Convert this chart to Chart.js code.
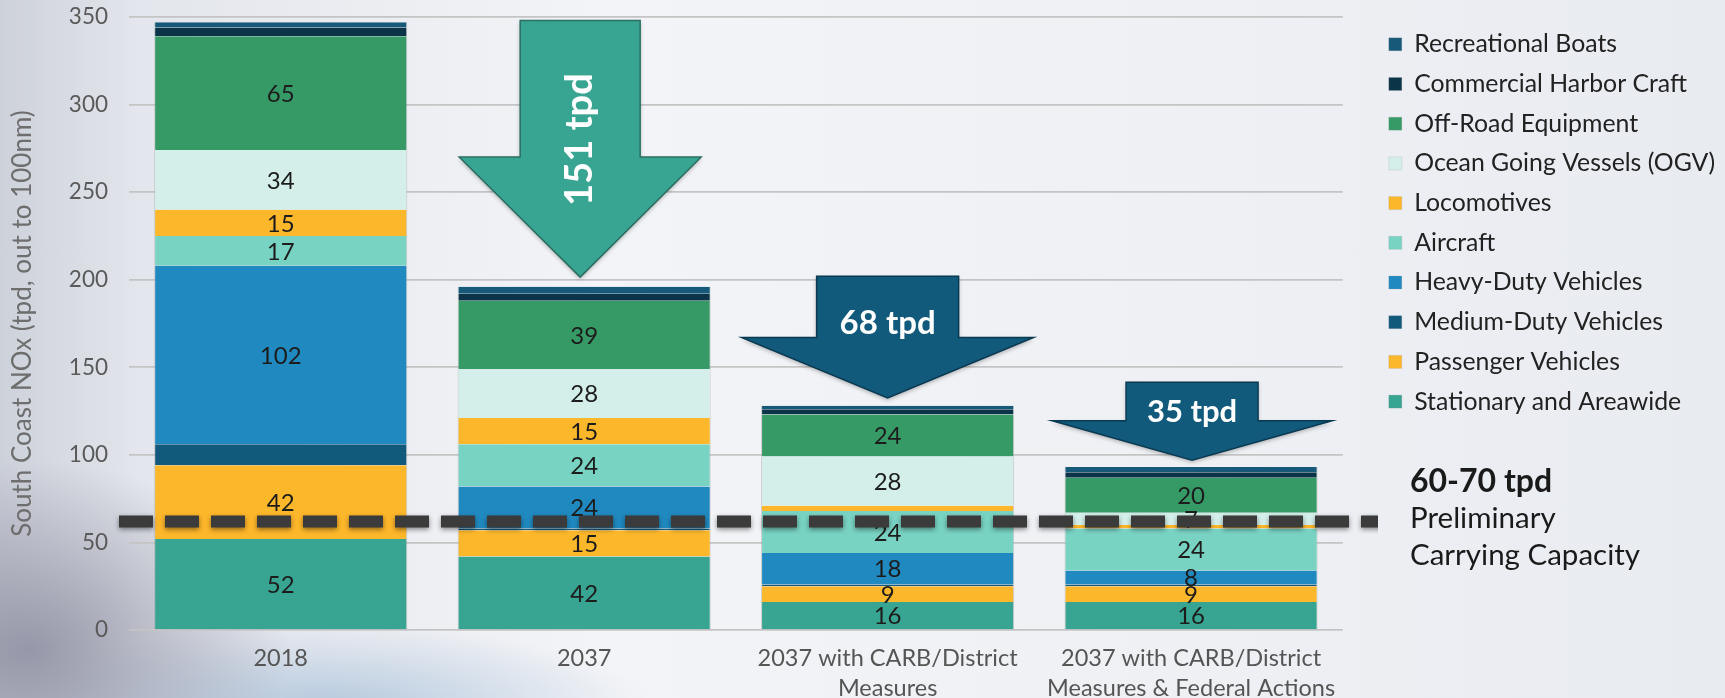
<!DOCTYPE html>
<html>
<head>
<meta charset="utf-8">
<script src="https://cdn.jsdelivr.net/npm/chart.js@4.4.0/dist/chart.umd.min.js"></script>
<style>
  html, body { margin: 0; padding: 0; }
  body {
    width: 1725px; height: 698px; overflow: hidden;
    background:
      radial-gradient(ellipse 260px 190px at 30px 650px, rgba(130,130,150,0.75), rgba(130,130,150,0) 100%),
      radial-gradient(ellipse 320px 80px at 330px 705px, rgba(120,160,200,0.45), rgba(120,160,200,0) 100%),
      linear-gradient(90deg, #cdd1da 0px, #e3e6ec 140px, #f3f4f7 600px, #eef0f4 1200px, #e8ebf0 1725px);
  }
  #wrap { position: relative; width: 1725px; height: 698px; }
</style>
</head>
<body>
<div id="wrap"><canvas id="noxChart"></canvas></div>
<script>
// categories and series (tpd)
const categories = [
    ['2018'],
    ['2037'],
    ['2037 with CARB/District', 'Measures'],
    ['2037 with CARB/District', 'Measures & Federal Actions']
];
const stationary  = [52, 42, 16, 16];
const passenger   = [42, 15, 9, 9];
const mediumDuty  = [12, 1, 1, 1];
const heavyDuty   = [102, 24, 18, 8];
const aircraft    = [17, 24, 24, 24];
const locomotives = [15, 15, 3, 2];
const oceanGoing  = [34, 28, 28, 7];
const offRoad     = [65, 39, 24, 20];
const harborCraft = [5, 4, 3, 3];
const recBoats    = [3, 4, 2, 3];
const yTicks = [0, 50, 100, 150, 200, 250, 300, 350];
const reductionLabels = ['151 tpd', '68 tpd', '35 tpd'];
const capacityLevel = 62;
const capacityText = ['60-70 tpd', 'Preliminary', 'Carrying Capacity'];

const FONT = 'Lato';

const series = [
    { label: 'Stationary and Areawide', data: stationary, color: '#38a492', showValue: true },
    { label: 'Passenger Vehicles', data: passenger, color: '#fdb72a', showValue: true },
    { label: 'Medium-Duty Vehicles', data: mediumDuty, color: '#115a7c', showValue: false },
    { label: 'Heavy-Duty Vehicles', data: heavyDuty, color: '#2089bf', showValue: true },
    { label: 'Aircraft', data: aircraft, color: '#79d3c3', showValue: true },
    { label: 'Locomotives', data: locomotives, color: '#fdb72a', showValue: true },
    { label: 'Ocean Going Vessels (OGV)', data: oceanGoing, color: '#d4efea', showValue: true },
    { label: 'Off-Road Equipment', data: offRoad, color: '#369a66', showValue: true },
    { label: 'Commercial Harbor Craft', data: harborCraft, color: '#0b3448', showValue: false },
    { label: 'Recreational Boats', data: recBoats, color: '#175979', showValue: false }
];

// reduction arrows: category they sit over, shape in axis units / px
const arrows = [
    { cat: 1, dx: -4, top: 348, neck: 270, tip: 201.5, shaft: 60, head: 121, textY: 280, fill: '#38a492', edge: '#2a6f62', size: 38, vertical: true },
    { cat: 2, dx: 0, top: 202, neck: 167, tip: 132.5, shaft: 71, head: 146, textY: 175, fill: '#115a7c', edge: '#0a3a52', size: 33, vertical: false },
    { cat: 3, dx: 1, top: 141.5, neck: 119.5, tip: 97, shaft: 66, head: 140, textY: 124.5, fill: '#115a7c', edge: '#0a3a52', size: 31, vertical: false }
];

// plot right edge and legend placement
const plotRight = 1343;
const legendFontSize = 24.8;
const legendPad = 14.9;
const legendBox = 13;
const measureCtx = document.createElement('canvas').getContext('2d');
measureCtx.font = legendFontSize + 'px ' + FONT;
const maxLabelW = Math.max(...series.map(s => measureCtx.measureText(s.label).width));
const legendW = legendPad + legendBox + legendFontSize / 2 + maxLabelW + 10;
const legendLeft = 1389 - legendPad;
const rightPad = Math.max(0, 1725 - legendLeft - legendW);

const segmentLabels = {
    id: 'segmentLabels',
    afterDatasetsDraw(chart) {
        const ctx = chart.ctx;
        ctx.save();
        ctx.font = '24px ' + FONT;
        ctx.fillStyle = '#1c1c1c';
        ctx.textAlign = 'center';
        ctx.textBaseline = 'middle';
        chart.data.datasets.forEach((ds, di) => {
            if (!series[di].showValue) return;
            chart.getDatasetMeta(di).data.forEach((bar, i) => {
                const v = ds.data[i];
                if (v < 5) return;
                const p = bar.getProps(['x', 'y', 'base'], true);
                ctx.fillText(String(v), p.x, (p.y + p.base) / 2 + 1);
            });
        });
        ctx.restore();
    }
};

const overlays = {
    id: 'overlays',
    afterDraw(chart) {
        const ctx = chart.ctx;
        const xs = chart.scales.x, ys = chart.scales.y;
        const area = chart.chartArea;

        // dashed carrying capacity line
        const yc = ys.getPixelForValue(capacityLevel);
        ctx.save();
        ctx.beginPath();
        ctx.rect(0, 0, 1378, chart.height);
        ctx.clip();
        ctx.shadowColor = 'rgba(0,0,0,0.45)';
        ctx.shadowBlur = 5;
        ctx.shadowOffsetY = 2;
        ctx.strokeStyle = '#3b3b3b';
        ctx.lineWidth = 12;
        ctx.setLineDash([34, 12]);
        ctx.beginPath();
        ctx.moveTo(area.left - 10, yc);
        ctx.lineTo(1400, yc);
        ctx.stroke();
        ctx.restore();

        // reduction arrows
        arrows.forEach((a, k) => {
            const cx = xs.getPixelForValue(a.cat) + a.dx;
            const yT = ys.getPixelForValue(a.top);
            const yN = ys.getPixelForValue(a.neck);
            const yP = ys.getPixelForValue(a.tip);
            ctx.save();
            ctx.shadowColor = 'rgba(0,0,0,0.3)';
            ctx.shadowBlur = 4;
            ctx.shadowOffsetY = 2;
            ctx.beginPath();
            ctx.moveTo(cx - a.shaft, yT);
            ctx.lineTo(cx + a.shaft, yT);
            ctx.lineTo(cx + a.shaft, yN);
            ctx.lineTo(cx + a.head, yN);
            ctx.lineTo(cx, yP);
            ctx.lineTo(cx - a.head, yN);
            ctx.lineTo(cx - a.shaft, yN);
            ctx.closePath();
            ctx.fillStyle = a.fill;
            ctx.fill();
            ctx.shadowColor = 'transparent';
            ctx.strokeStyle = a.edge;
            ctx.lineWidth = 1.5;
            ctx.stroke();
            ctx.fillStyle = '#ffffff';
            ctx.font = 'bold ' + a.size + 'px ' + FONT;
            ctx.textAlign = 'center';
            ctx.textBaseline = 'middle';
            const ty = ys.getPixelForValue(a.textY);
            if (a.vertical) {
                ctx.translate(cx, ty);
                ctx.rotate(-Math.PI / 2);
                ctx.fillText(reductionLabels[k], 0, 0);
            } else {
                ctx.fillText(reductionLabels[k], cx, ty);
            }
            ctx.restore();
        });

        // capacity note
        ctx.save();
        ctx.fillStyle = '#1a1a1a';
        ctx.textAlign = 'left';
        ctx.textBaseline = 'middle';
        ctx.font = 'bold 32px ' + FONT;
        ctx.fillText(capacityText[0], 1410, 482);
        ctx.font = '29.5px ' + FONT;
        ctx.fillText(capacityText[1], 1410, 518);
        ctx.fillText(capacityText[2], 1410, 555);
        ctx.restore();
    }
};

const ctx = document.getElementById('noxChart').getContext('2d');
new Chart(ctx, {
    type: 'bar',
    data: {
        labels: categories,
        datasets: series.map(s => ({
            label: s.label,
            data: s.data,
            backgroundColor: s.color,
            borderColor: 'rgba(150,150,150,0.45)',
            borderWidth: { left: 1, right: 1, top: 0, bottom: 0 },
            borderSkipped: false,
            barPercentage: 0.834,
            categoryPercentage: 1.0
        }))
    },
    options: {
        responsive: true,
        maintainAspectRatio: false,
        animation: false,
        layout: { padding: { top: 0, right: rightPad, bottom: 0, left: 0 } },
        plugins: {
            legend: {
                position: 'right',
                align: 'start',
                fullSize: false,
                reverse: true,
                maxWidth: 600,
                labels: {
                    boxWidth: legendBox,
                    boxHeight: legendBox,
                    padding: legendPad,
                    color: '#222222',
                    font: { family: FONT, size: legendFontSize }
                }
            },
            tooltip: { enabled: false }
        },
        scales: {
            x: {
                stacked: true,
                grid: { display: false, drawTicks: false },
                border: { display: false },
                ticks: {
                    color: '#555555',
                    padding: 14,
                    font: { family: FONT, size: 23.5, lineHeight: 1.25 }
                },
                afterFit: s => { s.height = 68; }
            },
            y: {
                stacked: true,
                min: 0,
                max: 350,
                afterBuildTicks: s => { s.ticks = yTicks.map(v => ({ value: v })); },
                grid: { color: '#c4c4c4', lineWidth: 1.7, drawTicks: false },
                border: { display: false },
                ticks: {
                    color: '#5a5a5a',
                    padding: 21,
                    font: { family: FONT, size: 22.5 }
                },
                title: {
                    display: true,
                    text: 'South Coast NOx (tpd, out to 100nm)',
                    color: '#6e6e6e',
                    padding: { top: 7.5, bottom: 0 },
                    font: { family: FONT, size: 26 }
                },
                afterFit: s => {
                    s.width = 129;
                    s.paddingTop = 17;
                    s.paddingBottom = 0;
                }
            },
            gap: {
                type: 'linear',
                position: 'right',
                display: true,
                grid: { display: false, drawTicks: false },
                border: { display: false },
                ticks: { display: false },
                afterFit: s => { s.width = legendLeft - plotRight; }
            }
        }
    },
    plugins: [segmentLabels, overlays]
});
</script>
</body>
</html>
